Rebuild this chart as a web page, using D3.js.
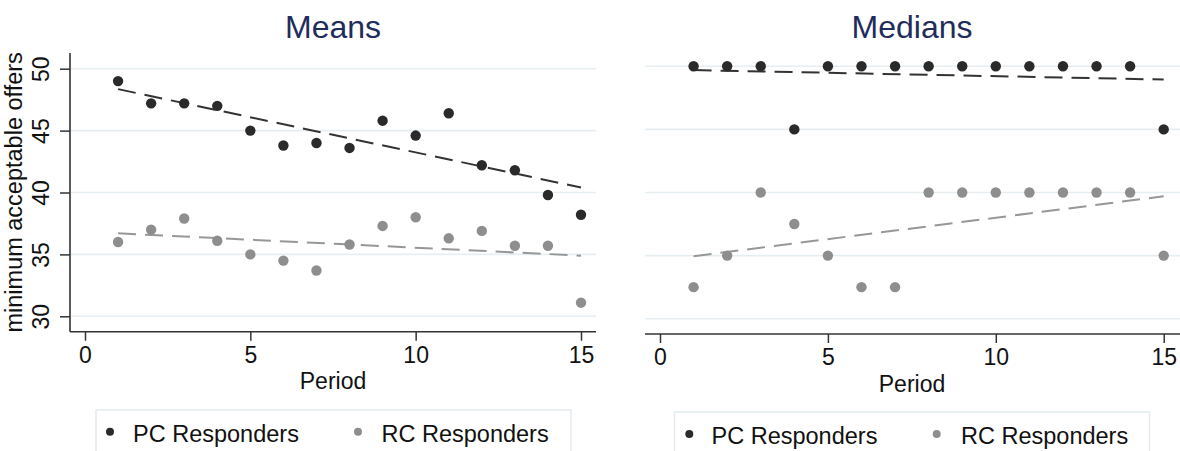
<!DOCTYPE html>
<html>
<head>
<meta charset="utf-8">
<script src="https://cdn.jsdelivr.net/npm/d3@7"></script>
<style>
  html, body { margin: 0; padding: 0; background: #ffffff; }
  svg { display: block; font-family: "Liberation Sans", Arial, sans-serif; }
</style>
</head>
<body>
<svg id="chart" width="1180" height="451"></svg>
<script>
// ---- data ----
const periods    = [1, 2, 3, 4, 5, 6, 7, 8, 9, 10, 11, 12, 13, 14, 15];
const meansPC    = [49.0, 47.2, 47.2, 47.0, 45.0, 43.8, 44.0, 43.6, 45.8, 44.6, 46.4, 42.2, 41.8, 39.8, 38.2];
const meansRC    = [36.0, 37.0, 37.9, 36.1, 35.0, 34.5, 33.7, 35.8, 37.3, 38.0, 36.3, 36.9, 35.7, 35.7, 31.1];
const mediansPC  = [50, 50, 50, 45, 50, 50, 50, 50, 50, 50, 50, 50, 50, 50, 45];
const mediansRC  = [32.5, 35, 40, 37.5, 35, 32.5, 32.5, 40, 40, 40, 40, 40, 40, 40, 35];
const fitPeriods   = [1, 15];
const meansPCFit   = [48.35, 40.4];
const meansRCFit   = [36.7, 34.9];
const mediansPCFit = [49.7, 48.95];
const mediansRCFit = [34.95, 39.7];
const xTicks = [0, 5, 10, 15];
const yTicks = [30, 35, 40, 45, 50];
const panelTitles = ["Means", "Medians"];
const seriesNames = ["PC Responders", "RC Responders"];
const yTitle = "minimum acceptable offers";
const xTitle = "Period";

// ---- styles ----
const C = {
  title: "#1f2d5c",
  grid: "#e6eef1",
  axis: "#333333",
  pc: "#2a2a2a",
  rc: "#8e8e8e",
  pcFit: "#333333",
  rcFit: "#979797",
  legendBorder: "#e3ebee",
  text: "#111111"
};

const svg = d3.select("#chart");

const panels = [
  { title: panelTitles[0], pc: meansPC, rc: meansRC, pcFit: meansPCFit, rcFit: meansRCFit,
    plot: { left: 70, right: 596, top: 53, bottom: 331.7 },
    xr: [85, 581], yr: [316.3, 68.7], showY: true,
    titleX: 333, titleY: 37.5, periodY: 388.5,
    legend: { x: 96, y: 410, w: 475, dot1: 110, text1: 133, dot2: 358, text2: 381.5, ty: 441.5, dy: 431.7 } },
  { title: panelTitles[1], pc: mediansPC, rc: mediansRC, pcFit: mediansPCFit, rcFit: mediansRCFit,
    plot: { left: 645, right: 1180, top: 53, bottom: 334 },
    xr: [660, 1163.7], yr: [318.7, 66.3], showY: false,
    titleX: 912, titleY: 37.5, periodY: 391.5,
    legend: { x: 674.5, y: 412, w: 475, dot1: 689.3, text1: 711.5, dot2: 936.7, text2: 961, ty: 443.5, dy: 434 } }
];

panels.forEach(p => {
  const x = d3.scaleLinear().domain([0, 15]).range(p.xr);
  const y = d3.scaleLinear().domain([30, 50]).range(p.yr);
  const g = svg.append("g");

  // gridlines
  g.selectAll(".grid").data(yTicks).join("line")
    .attr("x1", p.plot.left).attr("x2", p.plot.right)
    .attr("y1", d => y(d)).attr("y2", d => y(d))
    .attr("stroke", C.grid).attr("stroke-width", 1.6);

  // x axis
  const xa = g.append("g").attr("transform", `translate(0,${p.plot.bottom})`)
    .call(d3.axisBottom(x).tickValues(xTicks).tickSize(9).tickPadding(5.5).tickSizeOuter(0));
  xa.select(".domain").remove();
  xa.append("line").attr("x1", p.plot.left).attr("x2", p.plot.right)
    .attr("stroke", C.axis).attr("stroke-width", 1.6);
  xa.selectAll(".tick line").attr("stroke", C.axis).attr("stroke-width", 1.5);
  xa.selectAll(".tick text").attr("fill", C.text).style("font-size", "23px");

  // y axis
  if (p.showY) {
    const ya = g.append("g").attr("transform", `translate(${p.plot.left},0)`)
      .call(d3.axisLeft(y).tickValues(yTicks).tickSize(10).tickSizeOuter(0));
    ya.select(".domain").remove();
    ya.append("line").attr("y1", p.plot.top).attr("y2", p.plot.bottom)
      .attr("stroke", C.axis).attr("stroke-width", 1.6);
    ya.selectAll(".tick line").attr("stroke", C.axis).attr("stroke-width", 1.5);
    ya.selectAll(".tick text")
      .attr("x", 0).attr("y", -21).attr("dy", 0)
      .attr("transform", "rotate(-90)")
      .attr("text-anchor", "middle")
      .attr("fill", C.text).style("font-size", "23px");
    svg.append("text")
      .attr("transform", `translate(22,${(p.plot.top + p.plot.bottom) / 2}) rotate(-90)`)
      .attr("text-anchor", "middle").attr("fill", C.text)
      .style("font-size", "23.5px").text(yTitle);
  }

  // fit lines
  const line = d3.line().x(d => x(d[0])).y(d => y(d[1]));
  g.append("path").datum(fitPeriods.map((t, i) => [t, p.rcFit[i]]))
    .attr("d", line).attr("fill", "none").attr("stroke", C.rcFit)
    .attr("stroke-width", 2).attr("stroke-dasharray", "18,9");
  g.append("path").datum(fitPeriods.map((t, i) => [t, p.pcFit[i]]))
    .attr("d", line).attr("fill", "none").attr("stroke", C.pcFit)
    .attr("stroke-width", 2).attr("stroke-dasharray", "18,9");

  // points
  g.selectAll(".rc").data(periods.map((t, i) => [t, p.rc[i]])).join("circle")
    .attr("cx", d => x(d[0])).attr("cy", d => y(d[1])).attr("r", 5.2).attr("fill", C.rc);
  g.selectAll(".pc").data(periods.map((t, i) => [t, p.pc[i]])).join("circle")
    .attr("cx", d => x(d[0])).attr("cy", d => y(d[1])).attr("r", 5.2).attr("fill", C.pc);

  // titles
  svg.append("text").attr("x", p.titleX).attr("y", p.titleY)
    .attr("text-anchor", "middle").attr("fill", C.title)
    .style("font-size", "32px").text(p.title);
  svg.append("text").attr("x", p.titleX).attr("y", p.periodY)
    .attr("text-anchor", "middle").attr("fill", C.text)
    .style("font-size", "23px").text(xTitle);

  // legend
  const L = p.legend;
  svg.append("rect").attr("x", L.x).attr("y", L.y).attr("width", L.w).attr("height", 60)
    .attr("fill", "#ffffff").attr("stroke", C.legendBorder).attr("stroke-width", 1.5);
  svg.append("circle").attr("cx", L.dot1).attr("cy", L.dy).attr("r", 4).attr("fill", C.pc);
  svg.append("circle").attr("cx", L.dot2).attr("cy", L.dy).attr("r", 4).attr("fill", C.rc);
  svg.append("text").attr("x", L.text1).attr("y", L.ty).attr("fill", C.text)
    .style("font-size", "23.5px").text(seriesNames[0]);
  svg.append("text").attr("x", L.text2).attr("y", L.ty).attr("fill", C.text)
    .style("font-size", "23.5px").text(seriesNames[1]);
});
</script>
</body>
</html>
